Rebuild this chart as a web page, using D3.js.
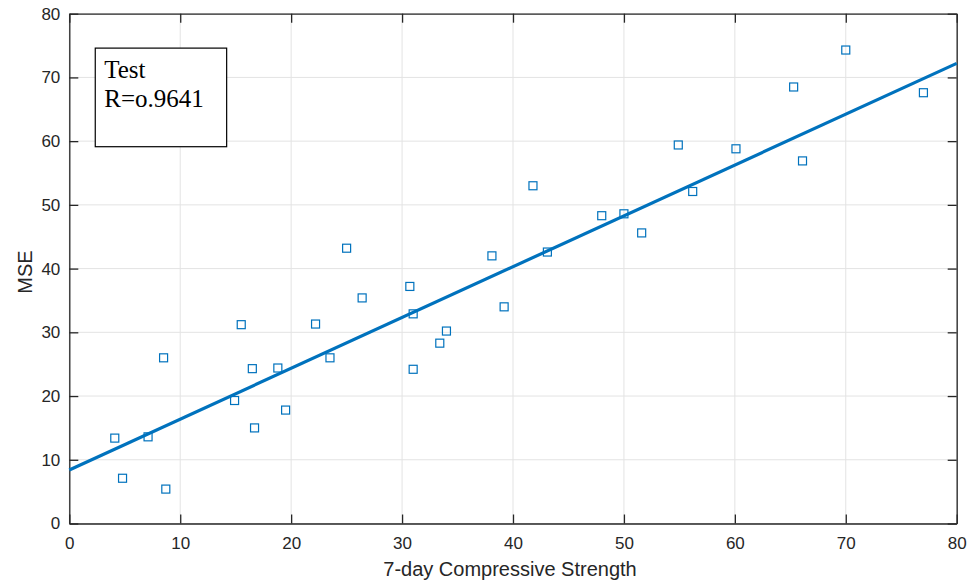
<!DOCTYPE html>
<html>
<head>
<meta charset="utf-8">
<script src="https://cdn.jsdelivr.net/npm/d3@7"></script>
<style>
  body { margin: 0; background: #fff; }
  svg { display: block; }
</style>
</head>
<body>
<div id="chart"></div>
<script>
const strength = [4.1, 4.8, 7.1, 8.5, 8.7, 14.9, 15.5, 16.5, 16.7, 18.8, 19.5, 22.2, 23.5, 25.0, 26.4,
    30.7, 31.0, 31.0, 33.4, 34.0, 38.1, 39.2, 41.8, 43.1, 48.0, 50.0, 51.6, 54.9, 56.2, 60.1,
    65.3, 66.1, 70.0, 77.0];
const mse = [13.4, 7.1, 13.6, 26.0, 5.4, 19.3, 31.2, 24.3, 15.0, 24.4, 17.8, 31.3, 26.0, 43.2, 35.4,
    37.2, 32.9, 24.2, 28.3, 30.2, 42.0, 34.0, 53.0, 42.6, 48.3, 48.6, 45.6, 59.4, 52.1, 58.8,
    68.5, 56.9, 74.3, 67.6];
// fitted line endpoints
const fitX = [0, 80];
const fitY = [8.4, 72.2];
const xTicks = [0, 10, 20, 30, 40, 50, 60, 70, 80];
const yTicks = [0, 10, 20, 30, 40, 50, 60, 70, 80];
const boxLines = ["Test", "R=o.9641"];

const width = 972, height = 583;
const margin = {top: 13.7, right: 15.3, bottom: 59.5, left: 69.3};
const innerW = width - margin.left - margin.right;
const innerH = height - margin.top - margin.bottom;
const blue = "#0072BD";
const axisColor = "#262626";

var svg = d3.select("#chart").append("svg")
    .attr("width", width)
    .attr("height", height);

var g = svg.append("g")
    .attr("transform", "translate(" + margin.left + "," + margin.top + ")");

let x = d3.scaleLinear().domain([0, 80]).range([0, innerW]);
let y = d3.scaleLinear().domain([0, 80]).range([innerH, 0]);

// grid
xTicks.forEach(t =>
    g.append("line")
        .attr("x1", x(t)).attr("x2", x(t))
        .attr("y1", 0).attr("y2", innerH)
        .attr("stroke", "#e3e3e3")
        .attr("stroke-width", 1)
);
yTicks.forEach(t =>
    g.append("line")
        .attr("x1", 0).attr("x2", innerW)
        .attr("y1", y(t)).attr("y2", y(t))
        .attr("stroke", "#e3e3e3")
        .attr("stroke-width", 1)
);

// axes (ticks pointing inward, on all four sides)
var tickLen = 9;
var xAxis = g.append("g")
    .attr("transform", "translate(0," + innerH + ")")
    .call(d3.axisBottom(x).tickValues(xTicks).tickSize(-tickLen).tickPadding(13).tickSizeOuter(0));
var yAxis = g.append("g")
    .call(d3.axisLeft(y).tickValues(yTicks).tickSize(-tickLen).tickPadding(9).tickSizeOuter(0));
var xTop = g.append("g")
    .call(d3.axisTop(x).tickValues(xTicks).tickSize(-tickLen).tickFormat("").tickSizeOuter(0));
var yRight = g.append("g")
    .attr("transform", "translate(" + innerW + ",0)")
    .call(d3.axisRight(y).tickValues(yTicks).tickSize(-tickLen).tickFormat("").tickSizeOuter(0));

[xAxis, yAxis, xTop, yRight].forEach(a => {
    a.selectAll("path").attr("stroke", axisColor).attr("stroke-width", 1.3);
    a.selectAll("line").attr("stroke", axisColor).attr("stroke-width", 1.3);
    a.selectAll("text")
        .attr("fill", axisColor)
        .style("font-family", "'Liberation Sans', Arial, sans-serif")
        .style("font-size", "17px");
});

// fitted line
let line = d3.line().x(d => x(d[0])).y(d => y(d[1]));
g.append("path")
    .datum(fitX.map((v, i) => [v, fitY[i]]))
    .attr("d", line)
    .attr("fill", "none")
    .attr("stroke", blue)
    .attr("stroke-width", 3.2);

// data markers
var sz = 8;
g.selectAll("rect.pt")
    .data(strength.map((v, i) => [v, mse[i]]))
    .enter().append("rect")
    .attr("class", "pt")
    .attr("x", d => x(d[0]) - sz / 2)
    .attr("y", d => y(d[1]) - sz / 2)
    .attr("width", sz)
    .attr("height", sz)
    .attr("fill", "none")
    .attr("stroke", blue)
    .attr("stroke-width", 1.2);

// text box
var bx = x(2.34), by = y(74.6), bw = 131.4, bh = 98.6;
g.append("rect")
    .attr("x", bx).attr("y", by)
    .attr("width", bw).attr("height", bh)
    .attr("fill", "#fff")
    .attr("stroke", "#000")
    .attr("stroke-width", 1.2);
boxLines.forEach((t, i) =>
    g.append("text")
        .attr("x", bx + 9)
        .attr("y", by + 29.5 + i * 29)
        .style("font-family", "'Liberation Serif', 'Times New Roman', serif")
        .style("font-size", "25px")
        .attr("fill", "#000")
        .text(t)
);

// axis labels
svg.append("text")
    .attr("x", margin.left + innerW / 2 - 3)
    .attr("y", 576)
    .style("text-anchor", "middle")
    .style("font-family", "'Liberation Sans', Arial, sans-serif")
    .style("font-size", "20px")
    .attr("fill", axisColor)
    .text("7-day Compressive Strength");

svg.append("text")
    .attr("transform", "translate(32,272) rotate(-90)")
    .style("text-anchor", "middle")
    .style("font-family", "'Liberation Sans', Arial, sans-serif")
    .style("font-size", "20px")
    .attr("fill", axisColor)
    .text("MSE");
</script>
</body>
</html>
